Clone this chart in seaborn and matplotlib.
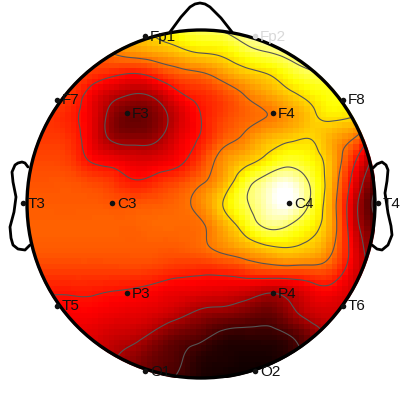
import numpy as np
import matplotlib
matplotlib.use("Agg")
import matplotlib.pyplot as plt
from matplotlib.patches import Circle
from matplotlib.tri import Triangulation, CubicTriInterpolator
import seaborn as sns

plt.rcParams['font.family'] = ['Liberation Sans', 'DejaVu Sans']

# Estimated scalp field (rows top to bottom, columns left to right)
field_rows = [
    [.50,.50,.50,.55,.60,.65,.72,.78,.83,.85,.92,.95,.95,.95,.95,.90,.90],
    [.50,.50,.50,.50,.55,.59,.62,.66,.70,.72,.79,.84,.88,.92,.93,.90,.85],
    [.47,.47,.47,.44,.41,.39,.44,.50,.53,.59,.65,.69,.76,.82,.82,.78,.75],
    [.46,.46,.44,.35,.27,.23,.27,.37,.42,.47,.54,.60,.66,.72,.76,.75,.70],
    [.44,.44,.41,.33,.19,.14,.19,.30,.39,.46,.51,.54,.59,.66,.71,.69,.65],
    [.45,.45,.43,.33,.22,.20,.23,.33,.40,.50,.56,.63,.67,.69,.62,.54,.35],
    [.47,.47,.45,.38,.35,.32,.33,.37,.46,.58,.65,.72,.79,.75,.63,.42,.20],
    [.49,.49,.49,.47,.44,.40,.43,.47,.53,.62,.78,.90,.97,.83,.62,.35,.12],
    [.50,.50,.50,.50,.49,.49,.50,.52,.57,.69,.82,.93,1.0,.83,.60,.30,.06],
    [.51,.51,.51,.51,.51,.51,.52,.52,.53,.62,.74,.86,.84,.74,.60,.31,.12],
    [.50,.50,.50,.50,.50,.50,.50,.50,.52,.57,.62,.67,.69,.66,.56,.34,.15],
    [.46,.46,.46,.46,.46,.46,.45,.43,.42,.43,.46,.49,.50,.50,.47,.33,.20],
    [.40,.40,.40,.40,.39,.38,.36,.34,.33,.32,.30,.26,.28,.34,.36,.30,.25],
    [.36,.36,.36,.36,.34,.33,.31,.27,.22,.20,.17,.14,.20,.28,.30,.30,.30],
    [.33,.33,.33,.32,.29,.27,.21,.15,.12,.07,.06,.06,.09,.17,.26,.30,.30],
    [.30,.30,.30,.30,.25,.20,.14,.10,.05,.03,.02,.02,.05,.12,.20,.25,.25],
    [.26,.26,.26,.26,.22,.16,.12,.08,.03,.01,.00,.00,.02,.08,.15,.20,.20],
]
contour_levels = [.09, .24, .39, .54, .69, .84]

# Electrodes in picture pixels
labels = ['Fp1','Fp2','F7','F3','F4','F8','T3','C3','C4','T4','T5','P3','P4','T6','O1','O2']
elec_x = [145,255,57,127,273,343,23,112,289,378,57,127,273,343,145,255]
elec_y = [36,36,100,113,113,100,203,203,203,203,306,293,293,306,371,371]

# Head outline in picture pixels
nose_x = [170,181,190,195,200,205,210,221,232]
nose_y = [32,17,7,4,3,4,7,18,32]
ear_l_x = [28,25,22,18,15,12,13,16,14,10,11,13,18,25,30]
ear_l_y = [167,163,162,163,165,172,182,197,212,227,238,245,249,250,245]
ear_r_x = [373,377,382,386,388,387,385,388,391,392,388,382,377,372]
ear_r_y = [168,164,162,165,170,181,193,213,226,235,245,250,249,245]

head_cx, head_cy, head_r = 201, 204, 174
x0, y0, step = 27, 30, 21.75
W = 400
cells_per_step = 4      # picture cells of about 5.4 px, as in the reference

Z = np.array(field_rows)
n = Z.shape[0]

# matplotlib's own cubic interpolator turns the coarse estimate into the display raster
gx, gy = np.meshgrid(np.arange(n, dtype=float), np.arange(n, dtype=float))
tri = Triangulation(gx.ravel(), gy.ravel())
interp = CubicTriInterpolator(tri, Z.ravel(), kind='min_E')

m = (n - 1) * cells_per_step
edges = (np.arange(m) + 0.5) / cells_per_step
cx, cy = np.meshgrid(edges, edges)
cells = np.ma.filled(interp(cx, cy), np.nan)

fine = np.linspace(0, n - 1, (n - 1) * 12 + 1)
fx, fy = np.meshgrid(fine, fine)
Zf = np.ma.masked_invalid(interp(fx, fy))

fig = plt.figure(figsize=(4, 4), dpi=100)
heat = fig.add_axes([x0 / W, 1 - (y0 + (n - 1) * step) / W, (n - 1) * step / W, (n - 1) * step / W])
sns.heatmap(cells, ax=heat, cmap='hot', vmin=0, vmax=1, cbar=False,
            xticklabels=False, yticklabels=False)
heat.set_xlim(0, m)
heat.set_ylim(m, 0)
cs = heat.contour(fx * cells_per_step, fy * cells_per_step, Zf, levels=contour_levels,
                  colors='#555555', linewidths=0.8)
heat.axis('off')
scale = cells_per_step / step
centre = ((head_cx - x0) * scale, (head_cy - y0) * scale)
mesh = heat.collections[0]
mesh.set_clip_path(Circle(centre, (head_r + 1.5) * scale, transform=heat.transData))
cs.set_clip_path(Circle(centre, head_r * scale, transform=heat.transData))

ov = fig.add_axes([0, 0, 1, 1])
ov.set_xlim(0, W)
ov.set_ylim(W, 0)
ov.axis('off')
ov.patch.set_alpha(0)
ov.add_patch(Circle((head_cx, head_cy), head_r, fill=False, ec='black', lw=2.4))
for xs, ys in [(nose_x, nose_y), (ear_l_x, ear_l_y), (ear_r_x, ear_r_y)]:
    ov.plot(xs, ys, color='black', lw=2.0, solid_joinstyle='round', solid_capstyle='round')

for name, x, y in zip(labels, elec_x, elec_y):
    c = '#d9d9d9' if name == 'Fp2' else '#111111'
    ov.plot([x], [y], 'o', ms=4, color=c, mew=0)
    ov.text(x + 5, y + 0.5, name, fontsize=11, color=c, va='center', ha='left')

fig.savefig('out.png', dpi=100)
